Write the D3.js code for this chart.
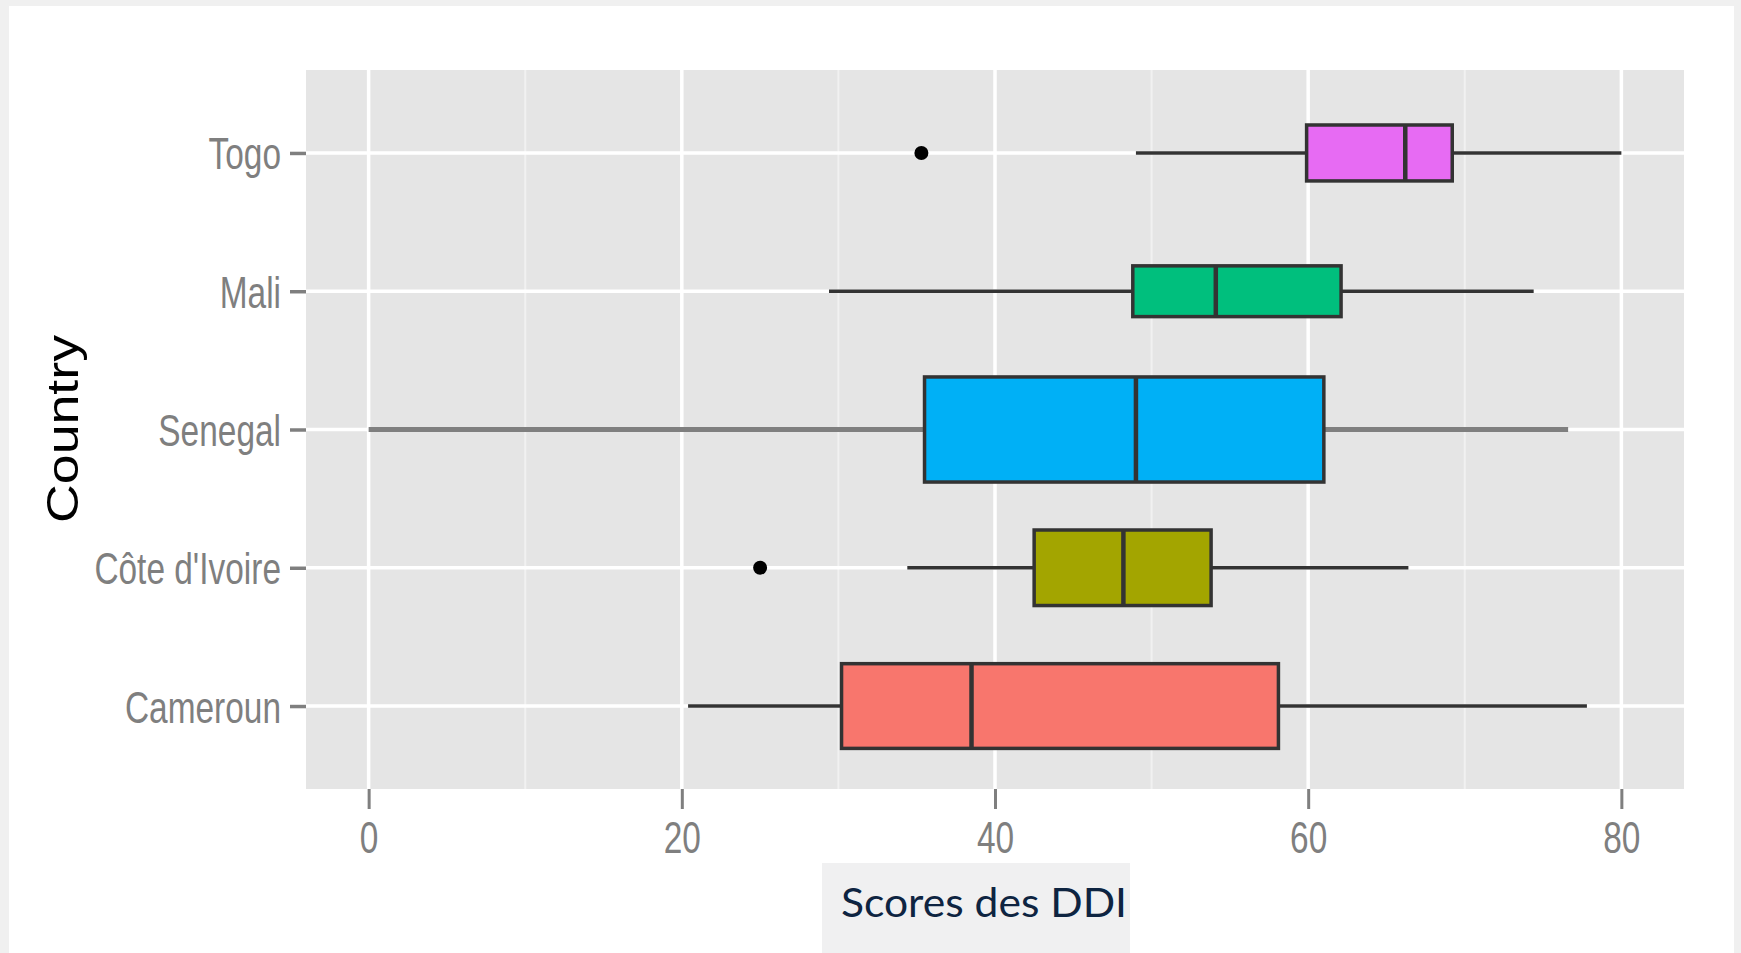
<!DOCTYPE html>
<html>
<head>
<meta charset="utf-8">
<script src="https://cdn.jsdelivr.net/npm/d3@7"></script>
<style>
body { margin: 0; background: #f0f0f0; }
</style>
</head>
<body>
<script>
// values (bottom row first)
var countries = ["Cameroun", "Côte d'Ivoire", "Senegal", "Mali", "Togo"];
var fillColors = ["#F8766D", "#A3A500", "#00B0F6", "#00BF7D", "#E76BF3"];
var whiskerLow = [20.4, 34.4, 0, 29.4, 49.0];
var q1 = [30.2, 42.5, 35.5, 48.8, 59.9];
var medians = [38.5, 48.2, 49.0, 54.1, 66.2];
var q3 = [58.1, 53.8, 61.0, 62.1, 69.2];
var whiskerHigh = [77.8, 66.4, 76.6, 74.4, 80.0];
var sampleSize = [39, 31, 60, 14, 17];
var outlierCountry = ["Côte d'Ivoire", "Togo"];
var outlierValue = [25.0, 35.3];
var xTicks = [0, 20, 40, 60, 80];
var xMinorTicks = [10, 30, 50, 70];

var margin = { top: 70, right: 57, bottom: 164, left: 306 },
    width = 1741 - margin.left - margin.right,
    height = 953 - margin.top - margin.bottom;

var svg = d3.select("body").append("svg")
    .attr("width", 1741)
    .attr("height", 953)
    .style("display", "block");

// white card on the grey page
svg.append("rect")
    .attr("x", 9).attr("y", 6)
    .attr("width", 1725).attr("height", 947)
    .attr("fill", "white");

var g = svg.append("g")
    .attr("transform", "translate(" + margin.left + "," + margin.top + ")");

var x = d3.scaleLinear().domain([-4, 84]).range([0, width]);
var y = d3.scalePoint().domain(countries).range([height, 0]).padding(0.6);
var halfBox = d3.scaleSqrt().domain([0, d3.max(sampleSize)]).range([0, 0.38 * y.step()]);

var data = countries.map(function(c, i) {
    return {
        country: c, color: fillColors[i], lo: whiskerLow[i], q1: q1[i],
        med: medians[i], q3: q3[i], hi: whiskerHigh[i], n: sampleSize[i]
    };
});

// panel
g.append("rect")
    .attr("width", width).attr("height", height)
    .attr("fill", "#e5e5e5");

g.selectAll(".minor").data(xMinorTicks).enter().append("line")
    .attr("x1", function(d) { return x(d); }).attr("x2", function(d) { return x(d); })
    .attr("y1", 0).attr("y2", height)
    .attr("stroke", "#f1f1f1").attr("stroke-width", 2);

g.selectAll(".major").data(xTicks).enter().append("line")
    .attr("x1", function(d) { return x(d); }).attr("x2", function(d) { return x(d); })
    .attr("y1", 0).attr("y2", height)
    .attr("stroke", "white").attr("stroke-width", 3.5);

g.selectAll(".hgrid").data(countries).enter().append("line")
    .attr("x1", 0).attr("x2", width)
    .attr("y1", function(d) { return y(d); }).attr("y2", function(d) { return y(d); })
    .attr("stroke", "white").attr("stroke-width", 3.5);

// axes
var xAxis = g.append("g")
    .attr("transform", "translate(0," + height + ")")
    .call(d3.axisBottom(x).tickValues(xTicks).tickSize(20));
xAxis.select(".domain").remove();
xAxis.selectAll("line").attr("stroke", "#7f7f7f").attr("stroke-width", 3);
xAxis.selectAll("text")
    .attr("y", 0).attr("dy", null)
    .attr("transform", "translate(0,64) scale(0.76,1)")
    .attr("fill", "#7f7f7f")
    .style("font-family", "Liberation Sans, Arial, sans-serif")
    .style("font-size", "44px");

var yAxis = g.append("g")
    .call(d3.axisLeft(y).tickSize(16));
yAxis.select(".domain").remove();
yAxis.selectAll("line").attr("stroke", "#7f7f7f").attr("stroke-width", 3.5);
yAxis.selectAll("text")
    .attr("x", 0).attr("dy", null)
    .attr("transform", "translate(-25,16) scale(0.76,1)")
    .attr("fill", "#7f7f7f")
    .style("font-family", "Liberation Sans, Arial, sans-serif")
    .style("font-size", "44px");

// boxes
var box = g.selectAll(".box").data(data).enter().append("g");

box.append("line")
    .attr("x1", function(d) { return x(d.lo); }).attr("x2", function(d) { return x(d.q1); })
    .attr("y1", function(d) { return y(d.country); }).attr("y2", function(d) { return y(d.country); })
    .attr("stroke", function(d) { return d.country === "Senegal" ? "#7f7f7f" : "#333333"; })
    .attr("stroke-width", function(d) { return d.country === "Senegal" ? 5 : 3.5; });

box.append("line")
    .attr("x1", function(d) { return x(d.q3); }).attr("x2", function(d) { return x(d.hi); })
    .attr("y1", function(d) { return y(d.country); }).attr("y2", function(d) { return y(d.country); })
    .attr("stroke", function(d) { return d.country === "Senegal" ? "#7f7f7f" : "#333333"; })
    .attr("stroke-width", function(d) { return d.country === "Senegal" ? 5 : 3.5; });

box.append("rect")
    .attr("x", function(d) { return x(d.q1); })
    .attr("y", function(d) { return y(d.country) - halfBox(d.n); })
    .attr("width", function(d) { return x(d.q3) - x(d.q1); })
    .attr("height", function(d) { return 2 * halfBox(d.n); })
    .attr("fill", function(d) { return d.color; })
    .attr("stroke", "#333333").attr("stroke-width", 3.5);

box.append("line")
    .attr("x1", function(d) { return x(d.med); }).attr("x2", function(d) { return x(d.med); })
    .attr("y1", function(d) { return y(d.country) - halfBox(d.n); })
    .attr("y2", function(d) { return y(d.country) + halfBox(d.n); })
    .attr("stroke", "#333333").attr("stroke-width", 4.5);

g.selectAll(".outlier").data(outlierValue).enter().append("circle")
    .attr("cx", function(d) { return x(d); })
    .attr("cy", function(d, i) { return y(outlierCountry[i]); })
    .attr("r", 7)
    .attr("fill", "black");

// axis titles
svg.append("text")
    .attr("transform", "translate(78,429) rotate(-90)")
    .attr("text-anchor", "middle")
    .attr("textLength", 188)
    .attr("lengthAdjust", "spacingAndGlyphs")
    .style("font-family", "Liberation Sans, Arial, sans-serif")
    .style("font-size", "45px")
    .attr("fill", "black")
    .text("Country");

svg.append("rect")
    .attr("x", 822).attr("y", 863)
    .attr("width", 308).attr("height", 90)
    .attr("fill", "#f0f0f1");

svg.append("text")
    .attr("x", 841).attr("y", 917)
    .attr("textLength", 286)
    .attr("lengthAdjust", "spacingAndGlyphs")
    .style("font-family", "Lato, Open Sans, sans-serif")
    .style("font-size", "41px")
    .attr("fill", "#0e2441")
    .text("Scores des DDI");
</script>
</body>
</html>
